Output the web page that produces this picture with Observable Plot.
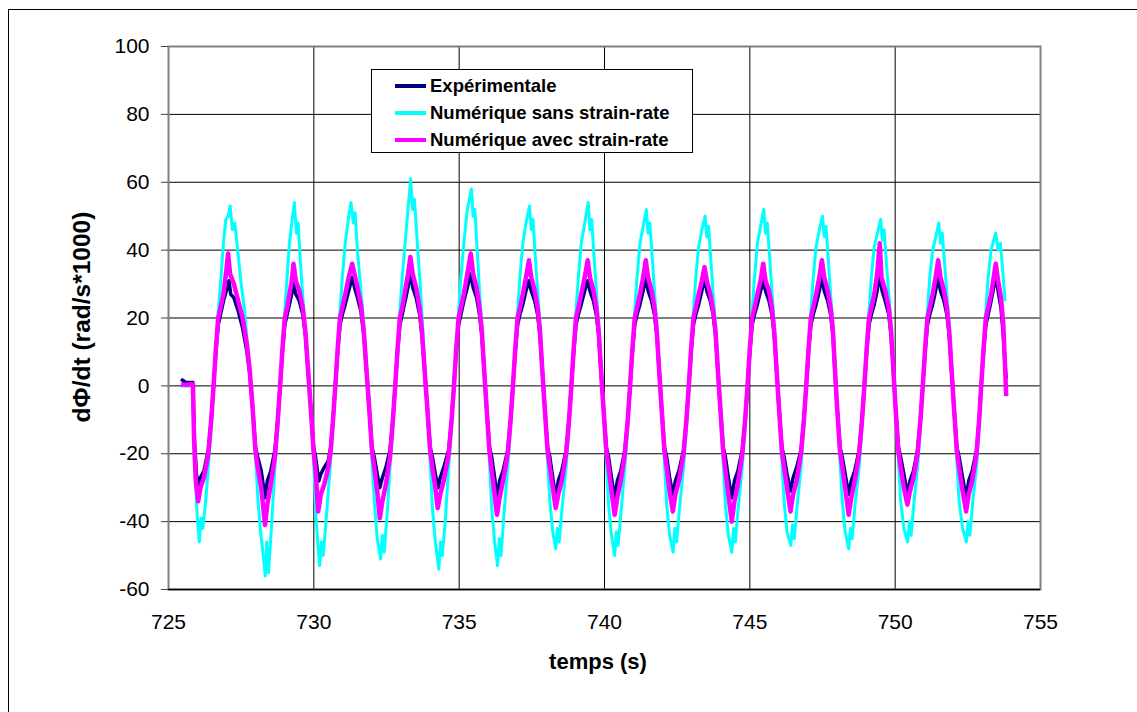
<!DOCTYPE html>
<html><head><meta charset="utf-8">
<script src="https://cdn.jsdelivr.net/npm/d3@7"></script>
<script src="https://cdn.jsdelivr.net/npm/@observablehq/plot@0.6"></script>
<style>
body{margin:0;background:#fff;font-family:"Liberation Sans",Arial,sans-serif;}
#wrap{position:relative;width:1137px;height:712px;overflow:hidden;background:#fff;}
#frame{position:absolute;left:8px;top:9px;width:1300px;height:900px;border-left:1.5px solid #000;border-top:1.5px solid #000;}
#chart{position:absolute;left:0;top:0;}
#legend{position:absolute;left:371px;top:69px;width:322px;height:84px;box-sizing:border-box;border:1.5px solid #000;background:#fff;}
.row{position:absolute;left:0;height:27px;line-height:27px;font-weight:bold;font-size:18.5px;color:#000;white-space:nowrap;}
.sw{position:absolute;left:23px;top:12px;width:31px;height:4px;}
.lt{position:absolute;left:58px;top:0;}
#ylabel{position:absolute;left:-118px;top:304px;width:400px;height:26px;line-height:26px;text-align:center;font-weight:bold;font-size:24.5px;transform:rotate(-90deg);white-space:nowrap;}
#xlabel{position:absolute;left:398px;top:651px;width:400px;height:22px;line-height:22px;text-align:center;font-weight:bold;font-size:22px;white-space:nowrap;}
</style></head>
<body><div id="wrap"><div id="frame"></div><div id="chart"></div><div id="legend"></div>
<div id="ylabel">dΦ/dt (rad/s*1000)</div>
<div id="xlabel">temps (s)</div></div>
<script>
const xTicks = [725, 730, 735, 740, 745, 750, 755];
const yTicks = [-60, -40, -20, 0, 20, 40, 60, 80, 100];
const seriesNames = ["Expérimentale", "Numérique sans strain-rate", "Numérique avec strain-rate"];
const seriesColors = ["#000080", "#00FFFF", "#FF00FF"];
const seriesWidths = [3.5, 3, 4.5];

// Expérimentale [temps (s), dΦ/dt]
const experimentale = [
[725.43,2],[725.6,1],[725.84,1],[725.88,-14],[725.96,-26],
[726.04,-31],[726.1,-27],[726.22,-25],[726.37,-19],[726.47,-10],[726.55,0],[726.63,10],[726.71,18],[726.79,21],[726.89,25],[726.99,28],[727.08,31],[727.14,27],[727.25,26],[727.4,22],[727.55,17],[727.7,10],[727.79,4],[727.89,-6],[727.99,-18],[728.07,-21],[728.19,-25],
[728.32,-33],[728.4,-28],[728.52,-25],[728.66,-19],[728.76,-10],[728.84,0],[728.92,10],[729.0,18],[729.08,21],[729.16,24],[729.24,27],[729.31,30],[729.38,27],[729.5,25],[729.62,21],[729.71,15],[729.79,6],[729.89,-6],[729.99,-18],[730.06,-21],
[730.17,-28],[730.24,-26],[730.36,-24],[730.5,-22],[730.58,-18],[730.66,-10],[730.74,0],[730.82,10],[730.9,18],[730.98,21],[731.08,24],[731.2,28],[731.32,32],[731.4,29],[731.5,26],[731.62,22],[731.72,15],[731.8,6],[731.9,-6],[732.0,-18],[732.08,-21],[732.18,-26],
[732.27,-30],[732.36,-27],[732.48,-24],[732.62,-19],[732.72,-10],[732.8,0],[732.88,10],[732.96,18],[733.04,21],[733.14,25],[733.24,29],[733.32,34],[733.4,29],[733.52,26],[733.64,21],[733.72,15],[733.8,6],[733.9,-6],[734.0,-18],[734.08,-21],[734.18,-26],
[734.28,-30],[734.35,-27],[734.47,-24],[734.64,-19],[734.74,-10],[734.82,0],[734.9,10],[734.98,18],[735.06,21],[735.16,25],[735.28,29],[735.4,33],[735.48,29],[735.6,26],[735.7,21],[735.78,15],[735.85,6],[735.94,-6],[736.04,-18],[736.12,-21],[736.22,-27],
[736.3,-33],[736.39,-28],[736.51,-25],[736.67,-19],[736.77,-10],[736.85,0],[736.93,10],[737.01,18],[737.09,21],[737.19,24],[737.3,28],[737.4,31],[737.48,28],[737.6,25],[737.7,21],[737.78,15],[737.85,6],[737.94,-6],[738.04,-18],[738.12,-21],[738.22,-27],
[738.32,-33],[738.41,-28],[738.53,-25],[738.68,-19],[738.78,-10],[738.86,0],[738.94,10],[739.02,18],[739.1,21],[739.2,24],[739.32,28],[739.42,31],[739.5,28],[739.62,25],[739.72,21],[739.8,15],[739.87,6],[739.96,-6],[740.06,-18],[740.14,-21],[740.24,-27],
[740.35,-33],[740.44,-28],[740.56,-25],[740.7,-19],[740.8,-10],[740.88,0],[740.96,10],[741.04,18],[741.12,21],[741.22,24],[741.33,28],[741.42,32],[741.5,28],[741.62,25],[741.72,21],[741.8,15],[741.87,6],[741.96,-6],[742.06,-18],[742.14,-21],[742.24,-27],
[742.35,-32],[742.44,-28],[742.56,-25],[742.72,-19],[742.82,-10],[742.9,0],[742.98,10],[743.06,18],[743.14,21],[743.24,24],[743.35,28],[743.44,32],[743.52,28],[743.64,25],[743.74,21],[743.82,15],[743.89,6],[743.98,-6],[744.08,-18],[744.16,-21],[744.26,-27],
[744.38,-33],[744.47,-28],[744.59,-25],[744.74,-19],[744.84,-10],[744.92,0],[745.0,10],[745.08,18],[745.16,21],[745.26,24],[745.37,28],[745.46,31],[745.54,28],[745.66,25],[745.76,21],[745.84,15],[745.91,6],[746.0,-6],[746.1,-18],[746.18,-21],[746.28,-26],
[746.4,-31],[746.49,-27],[746.61,-24],[746.76,-19],[746.86,-10],[746.94,0],[747.02,10],[747.1,18],[747.18,21],[747.28,24],[747.39,28],[747.48,32],[747.56,28],[747.68,25],[747.78,21],[747.86,15],[747.92,6],[748.0,-6],[748.1,-18],[748.18,-21],[748.28,-26],
[748.4,-32],[748.49,-28],[748.61,-25],[748.76,-19],[748.86,-10],[748.94,0],[749.02,10],[749.1,18],[749.18,21],[749.28,24],[749.38,28],[749.47,33],[749.55,28],[749.66,25],[749.78,21],[749.86,15],[749.93,6],[750.01,-6],[750.11,-18],[750.19,-21],[750.3,-26],
[750.42,-32],[750.51,-28],[750.63,-25],[750.77,-19],[750.87,-10],[750.95,0],[751.03,10],[751.11,18],[751.19,21],[751.29,24],[751.39,28],[751.48,32],[751.56,28],[751.68,25],[751.78,21],[751.86,15],[751.93,6],[752.02,-6],[752.12,-18],[752.2,-21],[752.32,-27],
[752.44,-33],[752.53,-28],[752.65,-25],[752.8,-19],[752.89,-10],[752.96,0],[753.04,10],[753.12,18],[753.2,21],[753.3,25],[753.39,29],[753.46,33],[753.54,28],[753.64,23],[753.72,15],[753.78,6],[753.82,2]
];

// Numérique sans strain-rate
const sansStrainRate = [
[725.43,0],[725.84,0],[725.88,-18],[725.95,-32],[726.0,-40],
[726.06,-46],[726.12,-39],[726.18,-42],[726.28,-34],[726.37,-24],[726.47,-12],[726.55,0],[726.63,11],[726.71,22],[726.79,30],[726.89,42],[726.97,49],[727.05,50],[727.12,53],[727.2,46],[727.28,48],[727.38,40],[727.5,30],[727.62,22],[727.72,12],[727.8,4],[727.9,-8],[728.0,-22],[728.08,-34],[728.18,-44],[728.26,-50],
[728.33,-56],[728.38,-46],[728.44,-55],[728.54,-42],[728.66,-24],[728.76,-12],[728.84,0],[728.92,11],[729.0,22],[729.08,32],[729.16,42],[729.24,48],[729.33,54],[729.4,45],[729.46,48],[729.54,36],[729.64,24],[729.71,16],[729.79,6],[729.89,-6],[729.99,-22],[730.06,-36],[730.13,-46],
[730.2,-53],[730.26,-46],[730.32,-50],[730.42,-40],[730.56,-24],[730.66,-12],[730.74,0],[730.82,11],[730.9,22],[730.98,32],[731.08,42],[731.2,50],[731.28,54],[731.36,48],[731.42,51],[731.5,40],[731.6,30],[731.7,20],[731.8,8],[731.9,-6],[732.0,-22],[732.08,-34],[732.18,-45],
[732.3,-51],[732.36,-44],[732.42,-49],[732.52,-38],[732.62,-24],[732.72,-12],[732.8,0],[732.88,11],[732.96,22],[733.04,32],[733.14,42],[733.22,50],[733.33,61],[733.4,52],[733.46,55],[733.56,42],[733.66,30],[733.74,18],[733.8,8],[733.9,-6],[734.0,-22],[734.08,-36],[734.18,-46],
[734.3,-54],[734.36,-46],[734.42,-50],[734.52,-40],[734.64,-24],[734.74,-12],[734.82,0],[734.9,11],[734.98,22],[735.06,32],[735.16,42],[735.28,52],[735.42,58],[735.48,50],[735.54,52],[735.62,40],[735.7,28],[735.78,18],[735.85,8],[735.94,-6],[736.04,-22],[736.12,-36],[736.22,-46],
[736.32,-53],[736.38,-45],[736.44,-50],[736.54,-38],[736.67,-24],[736.77,-12],[736.85,0],[736.93,11],[737.01,22],[737.09,32],[737.19,42],[737.3,48],[737.42,53],[737.48,46],[737.54,49],[737.62,38],[737.7,28],[737.78,18],[737.85,8],[737.94,-6],[738.04,-22],[738.12,-34],[738.22,-43],
[738.32,-48],[738.38,-42],[738.44,-46],[738.54,-36],[738.68,-24],[738.78,-12],[738.86,0],[738.94,11],[739.02,22],[739.1,32],[739.2,42],[739.32,48],[739.44,54],[739.5,46],[739.56,49],[739.64,38],[739.72,28],[739.8,18],[739.87,8],[739.96,-6],[740.06,-22],[740.14,-35],[740.24,-44],
[740.35,-50],[740.41,-43],[740.47,-47],[740.57,-37],[740.7,-24],[740.8,-12],[740.88,0],[740.96,11],[741.04,22],[741.12,32],[741.22,42],[741.33,47],[741.44,52],[741.5,45],[741.56,48],[741.64,38],[741.72,28],[741.8,18],[741.87,8],[741.96,-6],[742.06,-22],[742.14,-35],[742.24,-44],
[742.36,-49],[742.42,-42],[742.48,-46],[742.58,-36],[742.72,-24],[742.82,-12],[742.9,0],[742.98,11],[743.06,22],[743.14,32],[743.24,41],[743.35,46],[743.46,50],[743.52,44],[743.58,47],[743.66,37],[743.74,27],[743.82,18],[743.89,8],[743.98,-6],[744.08,-22],[744.16,-35],[744.26,-44],
[744.38,-49],[744.44,-42],[744.5,-46],[744.6,-36],[744.74,-24],[744.84,-12],[744.92,0],[745.0,11],[745.08,22],[745.16,32],[745.26,42],[745.37,47],[745.48,52],[745.54,45],[745.6,48],[745.68,38],[745.76,28],[745.84,18],[745.91,8],[746.0,-6],[746.1,-22],[746.18,-34],[746.28,-43],
[746.41,-47],[746.47,-41],[746.53,-45],[746.63,-35],[746.76,-24],[746.86,-12],[746.94,0],[747.02,11],[747.1,22],[747.18,32],[747.28,41],[747.39,46],[747.5,50],[747.56,44],[747.62,47],[747.7,37],[747.78,27],[747.86,18],[747.92,8],[748.0,-6],[748.1,-22],[748.18,-34],[748.28,-43],
[748.4,-48],[748.46,-42],[748.52,-45],[748.62,-35],[748.76,-24],[748.86,-12],[748.94,0],[749.02,11],[749.1,22],[749.18,32],[749.28,41],[749.39,45],[749.5,49],[749.56,43],[749.62,46],[749.7,36],[749.78,27],[749.86,18],[749.93,8],[750.01,-6],[750.11,-22],[750.19,-34],[750.3,-42],
[750.43,-46],[750.49,-40],[750.55,-44],[750.65,-34],[750.77,-24],[750.87,-12],[750.95,0],[751.03,11],[751.11,22],[751.19,32],[751.29,40],[751.4,44],[751.5,48],[751.56,42],[751.62,45],[751.7,36],[751.78,27],[751.86,18],[751.93,8],[752.02,-6],[752.12,-22],[752.2,-34],[752.32,-42],
[752.45,-46],[752.51,-40],[752.57,-44],[752.67,-34],[752.8,-24],[752.89,-12],[752.96,0],[753.04,11],[753.12,22],[753.2,32],[753.3,40],[753.39,43],[753.46,45],[753.54,40],[753.62,42],[753.7,34],[753.78,25]
];

// Numérique avec strain-rate
const avecStrainRate = [
[725.43,0.5],[725.6,0.3],[725.84,0.5],[725.88,-16],[725.94,-28],
[726.02,-34],[726.1,-30],[726.22,-27],[726.37,-20],[726.47,-10],[726.55,0],[726.63,11],[726.71,20],[726.79,23],[726.89,27],[726.99,34],[727.05,39],[727.12,33],[727.25,30],[727.4,25],[727.55,20],[727.7,12],[727.79,5],[727.89,-6],[727.99,-19],[728.07,-24],[728.19,-30],
[728.32,-41],[728.4,-35],[728.52,-29],[728.66,-21],[728.76,-10],[728.84,0],[728.92,11],[729.0,20],[729.08,23],[729.16,27],[729.24,31],[729.3,36],[729.38,31],[729.5,28],[729.62,23],[729.71,16],[729.79,6],[729.89,-6],[729.99,-19],[730.06,-25],
[730.15,-37],[730.24,-32],[730.36,-29],[730.5,-24],[730.58,-19],[730.66,-10],[730.74,0],[730.82,11],[730.9,20],[730.98,23],[731.08,27],[731.2,32],[731.32,36],[731.4,33],[731.5,29],[731.62,24],[731.72,16],[731.8,6],[731.9,-6],[732.0,-19],[732.08,-24],[732.18,-31],
[732.27,-39],[732.36,-34],[732.48,-29],[732.62,-21],[732.72,-10],[732.8,0],[732.88,11],[732.96,20],[733.04,23],[733.14,28],[733.24,33],[733.32,38],[733.4,33],[733.52,29],[733.64,23],[733.72,16],[733.8,6],[733.9,-6],[734.0,-19],[734.08,-24],[734.18,-30],
[734.26,-36],[734.35,-32],[734.47,-28],[734.64,-20],[734.74,-10],[734.82,0],[734.9,11],[734.98,20],[735.06,23],[735.16,27],[735.28,33],[735.4,39],[735.48,33],[735.6,29],[735.7,23],[735.78,16],[735.85,6],[735.94,-6],[736.04,-19],[736.12,-25],[736.22,-32],
[736.3,-38],[736.39,-33],[736.51,-28],[736.67,-20],[736.77,-10],[736.85,0],[736.93,11],[737.01,20],[737.09,23],[737.19,27],[737.3,32],[737.4,37],[737.48,32],[737.6,28],[737.7,23],[737.78,16],[737.85,6],[737.94,-6],[738.04,-19],[738.12,-24],[738.22,-30],
[738.32,-36],[738.41,-32],[738.53,-28],[738.68,-20],[738.78,-10],[738.86,0],[738.94,11],[739.02,20],[739.1,23],[739.2,27],[739.32,32],[739.42,37],[739.5,32],[739.62,28],[739.72,23],[739.8,16],[739.87,6],[739.96,-6],[740.06,-19],[740.14,-24],[740.24,-31],
[740.35,-38],[740.44,-33],[740.56,-28],[740.7,-20],[740.8,-10],[740.88,0],[740.96,11],[741.04,20],[741.12,23],[741.22,27],[741.33,32],[741.42,37],[741.5,32],[741.62,28],[741.72,23],[741.8,16],[741.87,6],[741.96,-6],[742.06,-19],[742.14,-24],[742.24,-31],
[742.35,-37],[742.44,-32],[742.56,-28],[742.72,-20],[742.82,-10],[742.9,0],[742.98,11],[743.06,20],[743.14,23],[743.24,27],[743.35,31],[743.44,35],[743.52,31],[743.64,27],[743.74,22],[743.82,16],[743.89,6],[743.98,-6],[744.08,-19],[744.16,-25],[744.26,-32],
[744.38,-40],[744.47,-34],[744.59,-29],[744.74,-20],[744.84,-10],[744.92,0],[745.0,11],[745.08,20],[745.16,23],[745.26,27],[745.37,31],[745.46,36],[745.54,31],[745.66,28],[745.76,23],[745.84,16],[745.91,6],[746.0,-6],[746.1,-19],[746.18,-24],[746.28,-30],
[746.4,-37],[746.49,-32],[746.61,-28],[746.76,-20],[746.86,-10],[746.94,0],[747.02,11],[747.1,20],[747.18,23],[747.28,27],[747.39,32],[747.48,37],[747.56,32],[747.68,28],[747.78,23],[747.86,16],[747.92,6],[748.0,-6],[748.1,-19],[748.18,-24],[748.28,-30],
[748.4,-38],[748.49,-33],[748.61,-28],[748.76,-20],[748.86,-10],[748.94,0],[749.02,11],[749.1,20],[749.18,23],[749.28,27],[749.38,33],[749.47,42],[749.53,32],[749.66,28],[749.78,23],[749.86,16],[749.93,6],[750.01,-6],[750.11,-19],[750.19,-24],[750.3,-30],
[750.42,-35],[750.51,-31],[750.63,-27],[750.77,-20],[750.87,-10],[750.95,0],[751.03,11],[751.11,20],[751.19,23],[751.29,27],[751.39,32],[751.48,37],[751.56,32],[751.68,28],[751.78,23],[751.86,16],[751.93,6],[752.02,-6],[752.12,-19],[752.2,-24],[752.32,-31],
[752.44,-37],[752.53,-32],[752.65,-28],[752.8,-20],[752.89,-10],[752.96,0],[753.04,11],[753.12,20],[753.2,23],[753.3,27],[753.39,32],[753.46,36],[753.54,31],[753.64,26],[753.72,18],[753.78,6],[753.82,-3]
];

const allSeries = [experimentale, sansStrainRate, avecStrainRate];

// legend
const legend = document.getElementById("legend");
seriesNames.forEach((name, i) => {
  const row = document.createElement("div");
  row.className = "row";
  row.style.top = (1.5 + i * 27) + "px";
  row.style.width = "100%";
  const sw = document.createElement("div");
  sw.className = "sw";
  sw.style.background = seriesColors[i];
  const lt = document.createElement("div");
  lt.className = "lt";
  lt.textContent = name;
  row.appendChild(sw); row.appendChild(lt);
  legend.appendChild(row);
});

const lineMarks = allSeries.map((s, i) => Plot.line(s, {
  x: d => d[0], y: d => d[1],
  stroke: seriesColors[i], strokeWidth: seriesWidths[i],
  strokeLinejoin: "round", strokeLinecap: "butt"
}));

const chart = Plot.plot({
  width: 1137, height: 712,
  marginLeft: 168, marginRight: 97, marginTop: 46, marginBottom: 123,
  style: {fontFamily: "'Liberation Sans', Arial, sans-serif", fontSize: "21px", color: "#000", background: "transparent", overflow: "visible"},
  x: {domain: [725, 755]},
  y: {domain: [-60, 100]},
  marks: [
    Plot.gridX(xTicks, {stroke: "#000", strokeOpacity: 1, strokeWidth: 1}),
    Plot.gridY(yTicks, {stroke: "#000", strokeOpacity: 1, strokeWidth: 1}),
    Plot.frame({stroke: "#808080", strokeWidth: 2}),
    Plot.ruleY([-60], {stroke: "#000", strokeWidth: 1.5}),
    Plot.axisY(yTicks, {tickSize: 7, tickPadding: 12, label: null, fontSize: 21, stroke: "#444", tickFormat: d => String(d)}),
    Plot.axisX(xTicks, {tickSize: 0, tickPadding: 25, label: null, fontSize: 21, tickFormat: d => String(d)}),
    ...lineMarks
  ]
});
document.getElementById("chart").appendChild(chart);
</script>
</body></html>
